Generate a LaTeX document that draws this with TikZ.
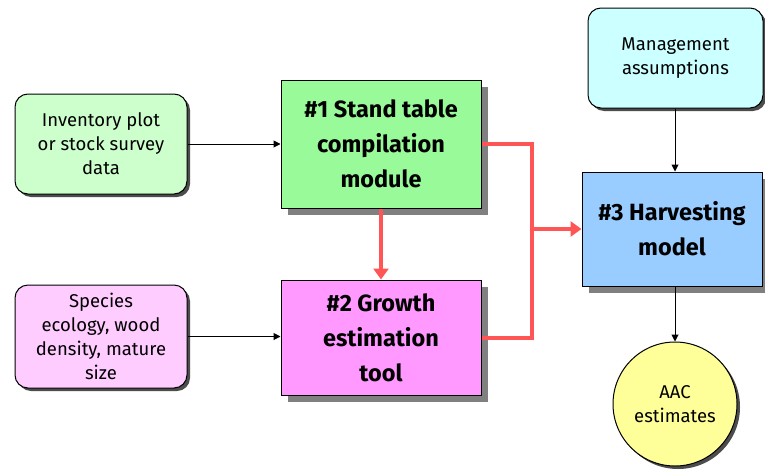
\documentclass[tikz,border=0pt]{standalone}
\usepackage{fontspec}
\setmainfont{Fira Sans}
\usetikzlibrary{arrows.meta,shadows}
\definecolor{lgreen}{RGB}{204,255,204}
\definecolor{mgreen}{RGB}{153,250,153}
\definecolor{lpink}{RGB}{255,204,255}
\definecolor{mpink}{RGB}{255,153,255}
\definecolor{mblue}{RGB}{153,204,255}
\definecolor{lcyan}{RGB}{204,255,255}
\definecolor{lyellow}{RGB}{255,255,153}
\definecolor{flowred}{RGB}{255,85,85}
\definecolor{shade}{RGB}{128,128,128}
\tikzset{
  inbox/.style={draw=black, line width=1pt, rounded corners=13pt, align=center,
    font=\fontsize{18.5}{24}\selectfont, inner sep=0pt,
    drop shadow={shadow xshift=3pt, shadow yshift=-3pt, fill=black!70, opacity=1}},
  modbox/.style={draw=black, line width=1pt, align=center,
    font=\fontsize{23.5}{35}\selectfont\bfseries, inner sep=0pt,
    drop shadow={shadow xshift=7pt, shadow yshift=-7pt, fill=shade, opacity=1}},
  thin/.style={draw=black, line width=1pt, -{Triangle[length=7pt,width=7pt]}},
  flow/.style={draw=flowred, line width=4pt},
  flowarrow/.style={flow, -{Triangle[length=11pt,width=15pt]}}
}
\begin{document}
\begin{tikzpicture}[x=1pt,y=-1pt]
\useasboundingbox (0,0) rectangle (765,471);
\fill[white] (0,0) rectangle (765,471);

% input boxes
\node[inbox, fill=lgreen, minimum width=172pt, minimum height=100pt] (inv) at (101,144)
  {Inventory plot\\or stock survey\\data};
\node[inbox, fill=lpink, minimum width=172pt, minimum height=103pt] (spec) at (101,336.5)
  {Species\\ecology, wood\\density, mature\\size};
\node[inbox, fill=lcyan, minimum width=175pt, minimum height=100pt] (mgmt) at (675.5,58)
  {Management\\assumptions};

% modules
\node[modbox, fill=mgreen, minimum width=200pt, minimum height=128pt] (m1) at (381,144)
  {\#1 Stand table\\compilation\\module};
\node[modbox, fill=mpink, minimum width=200pt, minimum height=115pt] (m2) at (381,337.5)
  {\#2 Growth\\estimation\\tool};
\node[modbox, fill=mblue, minimum width=180pt, minimum height=114pt] (m3) at (672,229)
  {\#3 Harvesting\\model};

% output
\node[circle, draw=black, line width=1pt, fill=lyellow, minimum size=124pt, inner sep=0pt,
  align=center, font=\fontsize{18.5}{24}\selectfont,
  drop shadow={shadow xshift=3pt, shadow yshift=-3pt, fill=black!70, opacity=1}] (aac) at (675,404)
  {AAC\\estimates};

% thin connectors
\draw[thin] (inv.east) -- (m1.west |- inv.east);
\draw[thin] (spec.east) -- (m2.west |- spec.east);
\draw[thin] (mgmt.south -| aac.north) -- (m3.north -| aac.north);
\draw[thin] (m3.south -| aac.north) -- (aac.north);

% data flow between modules
\coordinate (jn) at (532,229);
\draw[flowarrow] (m1.south) -- (m2.north);
\draw[flow, line join=miter] (m1.east) -| (jn);
\draw[flow, line join=miter] (m2.east) -| (jn);
\draw[flowarrow] (jn) -- (m3.west);
\end{tikzpicture}
\end{document}
